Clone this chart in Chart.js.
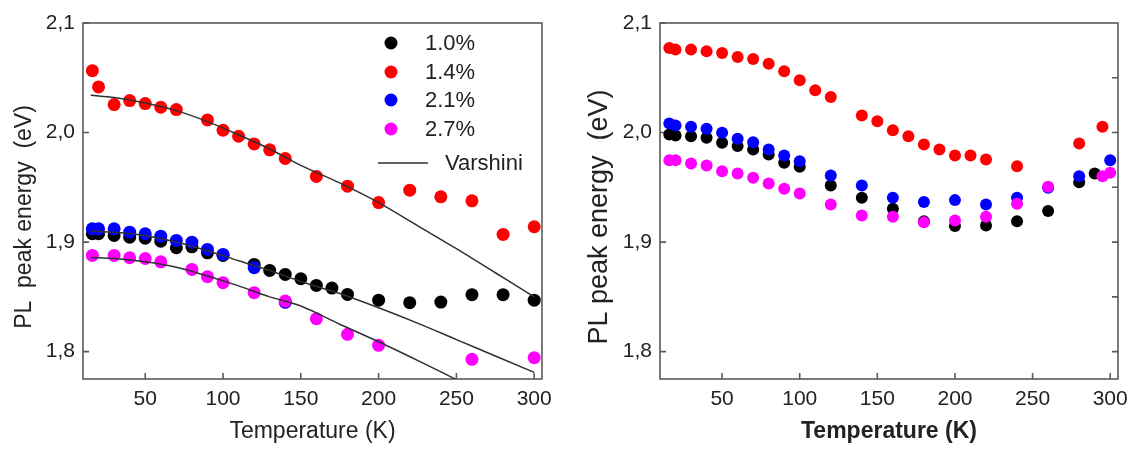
<!DOCTYPE html>
<html>
<head>
<meta charset="utf-8">
<script src="https://cdn.jsdelivr.net/npm/chart.js@4.4.1/dist/chart.umd.min.js"></script>
<style>
  html, body { margin: 0; padding: 0; background: #fff; }
  #wrap { position: relative; width: 1136px; height: 449px; }
  canvas { position: absolute; top: 0; }
  #left { left: 0; }
  #right { left: 560px; }
</style>
</head>
<body>
<div id="wrap">
  <canvas id="left" width="560" height="449"></canvas>
  <canvas id="right" width="576" height="449"></canvas>
</div>
<script>
// axis ticks
const xTicks = [50, 100, 150, 200, 250, 300];
const yTicks = [1.8, 1.9, 2.0, 2.1];
const yMinorTicks = [1.8, 1.85, 1.9, 1.95, 2.0, 2.05];

const seriesLabels = ['1.0%', '1.4%', '2.1%', '2.7%'];
const seriesColors = ['#000000', '#ff0000', '#0000ff', '#ff00ff'];

// left panel: measured points
const leftT10 = [16, 20, 30, 40, 50, 60, 70, 80, 90, 100, 120, 130, 140, 150, 160, 170, 180, 200, 220, 240, 260, 280, 300];
const leftE10 = [1.9076, 1.9076, 1.906, 1.9045, 1.9036, 1.9008, 1.8948, 1.8957, 1.8902, 1.8878, 1.8796, 1.8741, 1.8705, 1.8665, 1.8604, 1.858, 1.8522, 1.847, 1.8447, 1.8452, 1.852, 1.852, 1.847];
const leftT14 = [16, 20, 30, 40, 50, 60, 70, 90, 100, 110, 120, 130, 140, 160, 180, 200, 220, 240, 260, 280, 300];
const leftE14 = [2.0565, 2.0416, 2.0255, 2.0292, 2.0264, 2.0231, 2.021, 2.0115, 2.0021, 1.9966, 1.9896, 1.9842, 1.9763, 1.9599, 1.951, 1.9361, 1.9474, 1.9413, 1.9377, 1.907, 1.914];
const leftT21 = [16, 20, 30, 40, 50, 60, 70, 80, 90, 100, 120, 140];
const leftE21 = [1.9121, 1.9121, 1.9121, 1.909, 1.9076, 1.9054, 1.9015, 1.8999, 1.8933, 1.8887, 1.8766, 1.845];
const leftT27 = [16, 30, 40, 50, 60, 80, 90, 100, 120, 140, 160, 180, 200, 260, 300];
const leftE27 = [1.8878, 1.8878, 1.8857, 1.885, 1.882, 1.875, 1.8684, 1.8629, 1.8538, 1.8461, 1.830, 1.8158, 1.8057, 1.793, 1.7945];

// left panel: Varshini fits
const fitT = [15, 30, 50, 70, 90, 110, 130, 150, 175, 200, 225, 250, 275, 300];
const fit14 = [2.034, 2.032, 2.027, 2.020, 2.010, 1.998, 1.985, 1.970, 1.954, 1.936, 1.915, 1.894, 1.872, 1.850];
const fit10 = [1.910, 1.909, 1.906, 1.900, 1.892, 1.883, 1.874, 1.864, 1.853, 1.840, 1.826, 1.811, 1.796, 1.781];
const fitT27 = [15, 30, 50, 70, 90, 110, 130, 150, 175, 200, 225, 250];
const fit27 = [1.886, 1.885, 1.882, 1.877, 1.869, 1.860, 1.850, 1.8416, 1.825, 1.809, 1.792, 1.7745];

// right panel: measured points
const rightT10 = [16, 20, 30, 40, 50, 60, 70, 80, 90, 100, 120, 140, 160, 180, 200, 220, 240, 260, 280, 290];
const rightE10 = [1.9982, 1.9973, 1.9966, 1.9952, 1.9906, 1.9876, 1.9845, 1.98, 1.9724, 1.9687, 1.9517, 1.9405, 1.9304, 1.9191, 1.9146, 1.9152, 1.9191, 1.9283, 1.9547, 1.9626];
const rightT14 = [16, 20, 30, 40, 50, 60, 70, 80, 90, 100, 110, 120, 140, 150, 160, 170, 180, 190, 200, 210, 220, 240, 280, 295];
const rightE14 = [2.0772, 2.0757, 2.0757, 2.0741, 2.0727, 2.069, 2.0672, 2.0629, 2.0559, 2.0477, 2.0386, 2.0325, 2.0155, 2.0103, 2.0021, 1.9966, 1.9891, 1.9845, 1.979, 1.979, 1.9754, 1.9693, 1.99, 2.0052];
const rightT21 = [16, 20, 30, 40, 50, 60, 70, 80, 90, 100, 120, 140, 160, 180, 200, 220, 240, 260, 280, 300];
const rightE21 = [2.0082, 2.0064, 2.0052, 2.0034, 1.9997, 1.9943, 1.9912, 1.9845, 1.979, 1.9738, 1.9608, 1.9517, 1.9405, 1.9365, 1.9383, 1.9344, 1.9405, 1.9496, 1.9602, 1.9748];
const rightT27 = [16, 20, 30, 40, 50, 60, 70, 80, 90, 100, 120, 140, 160, 180, 200, 220, 240, 260, 295, 300];
const rightE27 = [1.9748, 1.9748, 1.9717, 1.9699, 1.9647, 1.9626, 1.9587, 1.9535, 1.9487, 1.9444, 1.9344, 1.9243, 1.9232, 1.9182, 1.9198, 1.9232, 1.935, 1.9505, 1.9602, 1.9633];

const FONT = 'Arial, "Liberation Sans", Helvetica, sans-serif';
Chart.defaults.font.family = FONT;
Chart.defaults.color = '#222';

const zip = (xs, ys) => xs.map((x, i) => ({ x: x, y: ys[i] }));

function points(label, color, xs, ys, r, order) {
  return {
    label: label,
    data: zip(xs, ys),
    backgroundColor: color,
    borderWidth: 0,
    pointRadius: r,
    pointHoverRadius: r,
    order: order
  };
}

function fitLine(xs, ys) {
  return {
    label: 'Varshini',
    data: zip(xs, ys),
    showLine: true,
    borderColor: '#303030',
    borderWidth: 1.5,
    pointRadius: 0,
    cubicInterpolationMode: 'monotone',
    order: 0
  };
}

// box, inward ticks, rotated y title and the legend
const framePlugin = {
  id: 'frame',
  beforeDatasetsDraw(chart, args, opts) {
    const { ctx, chartArea: a, scales: { x, y } } = chart;
    ctx.save();
    ctx.strokeStyle = '#5a5a5a';
    ctx.lineWidth = 1.6;
    ctx.strokeRect(a.left, a.top, a.right - a.left, a.bottom - a.top);
    ctx.beginPath();
    xTicks.forEach(v => {
      const px = x.getPixelForValue(v);
      ctx.moveTo(px, a.bottom);
      ctx.lineTo(px, a.bottom - 6);
    });
    yTicks.forEach(v => {
      const py = y.getPixelForValue(v);
      ctx.moveTo(a.left, py);
      ctx.lineTo(a.left + 6, py);
    });
    if (opts.rightTicks) {
      yMinorTicks.forEach(v => {
        const py = y.getPixelForValue(v);
        ctx.moveTo(a.right, py);
        ctx.lineTo(a.right - 6, py);
      });
    }
    ctx.stroke();
    ctx.restore();
  },
  afterDraw(chart, args, opts) {
    const { ctx } = chart;
    ctx.save();
    ctx.fillStyle = '#222';
    ctx.font = opts.titleSize + 'px ' + FONT;
    ctx.translate(opts.titleX, opts.titleY);
    ctx.rotate(-Math.PI / 2);
    ctx.textAlign = 'center';
    ctx.textBaseline = 'middle';
    ctx.fillText(opts.yTitle, 0, 0);
    ctx.restore();

    if (!opts.legend) return;
    const lg = opts.legend;
    ctx.save();
    ctx.font = '22px ' + FONT;
    ctx.textBaseline = 'middle';
    ctx.textAlign = 'left';
    seriesLabels.forEach((lab, i) => {
      ctx.fillStyle = seriesColors[i];
      ctx.beginPath();
      ctx.arc(lg.markX, lg.rows[i], 6.5, 0, Math.PI * 2);
      ctx.fill();
      ctx.fillStyle = '#222';
      ctx.fillText(lab, lg.textX, lg.rows[i] + 1);
    });
    ctx.strokeStyle = '#303030';
    ctx.lineWidth = 1.5;
    ctx.beginPath();
    ctx.moveTo(lg.lineX0, lg.lineY);
    ctx.lineTo(lg.lineX1, lg.lineY);
    ctx.stroke();
    ctx.fillText('Varshini', lg.lineTextX, lg.lineY + 1);
    ctx.restore();
  }
};

function makeScales(yWidth, xBold) {
  return {
    x: {
      type: 'linear',
      min: 10,
      max: 305,
      grid: { display: false, drawTicks: false },
      border: { display: false },
      afterBuildTicks: s => { s.ticks = xTicks.map(v => ({ value: v })); },
      ticks: { font: { size: 21 }, color: '#222', padding: 8, maxRotation: 0, autoSkip: false },
      title: {
        display: true,
        text: 'Temperature (K)',
        font: { size: 23, weight: xBold ? 'bold' : 'normal' },
        color: '#222',
        padding: { top: 0, bottom: 4 }
      },
      afterFit: s => { s.height = 70; }
    },
    y: {
      min: 1.775,
      max: 2.1,
      grid: { display: false, drawTicks: false },
      border: { display: false },
      afterBuildTicks: s => { s.ticks = yTicks.map(v => ({ value: v })); },
      ticks: {
        font: { size: 21 },
        color: '#222',
        padding: 8,
        callback: v => v.toFixed(1).replace('.', ',')
      },
      afterFit: s => { s.width = yWidth; }
    }
  };
}

const commonPlugins = {
  legend: { display: false },
  tooltip: { enabled: false }
};

new Chart(document.getElementById('left'), {
  type: 'scatter',
  data: {
    datasets: [
      fitLine(fitT, fit14),
      fitLine(fitT, fit10),
      fitLine(fitT27, fit27),
      points(seriesLabels[3], seriesColors[3], leftT27, leftE27, 6.5, 1),
      points(seriesLabels[2], seriesColors[2], leftT21, leftE21, 6.5, 2),
      points(seriesLabels[1], seriesColors[1], leftT14, leftE14, 6.5, 3),
      points(seriesLabels[0], seriesColors[0], leftT10, leftE10, 6.5, 4)
    ]
  },
  options: {
    responsive: false,
    animation: false,
    layout: { padding: { top: 23, right: 17, left: 0, bottom: 0 } },
    scales: makeScales(83, false),
    plugins: {
      ...commonPlugins,
      frame: {
        yTitle: 'PL  peak energy  (eV)',
        titleSize: 23,
        titleX: 25,
        titleY: 217,
        rightTicks: false,
        legend: { markX: 391, textX: 425, rows: [43, 72, 100, 129], lineY: 163, lineX0: 378, lineX1: 428, lineTextX: 445 }
      }
    }
  },
  plugins: [framePlugin]
});

new Chart(document.getElementById('right'), {
  type: 'scatter',
  data: {
    datasets: [
      points(seriesLabels[3], seriesColors[3], rightT27, rightE27, 6, 1),
      points(seriesLabels[2], seriesColors[2], rightT21, rightE21, 6, 2),
      points(seriesLabels[1], seriesColors[1], rightT14, rightE14, 6, 3),
      points(seriesLabels[0], seriesColors[0], rightT10, rightE10, 6, 4)
    ]
  },
  options: {
    responsive: false,
    animation: false,
    layout: { padding: { top: 23, right: 16, left: 0, bottom: 0 } },
    scales: makeScales(100, true),
    plugins: {
      ...commonPlugins,
      frame: {
        yTitle: 'PL peak energy  (eV)',
        titleSize: 27,
        titleX: 40,
        titleY: 217,
        rightTicks: true,
        legend: null
      }
    }
  },
  plugins: [framePlugin]
});
</script>
</body>
</html>
